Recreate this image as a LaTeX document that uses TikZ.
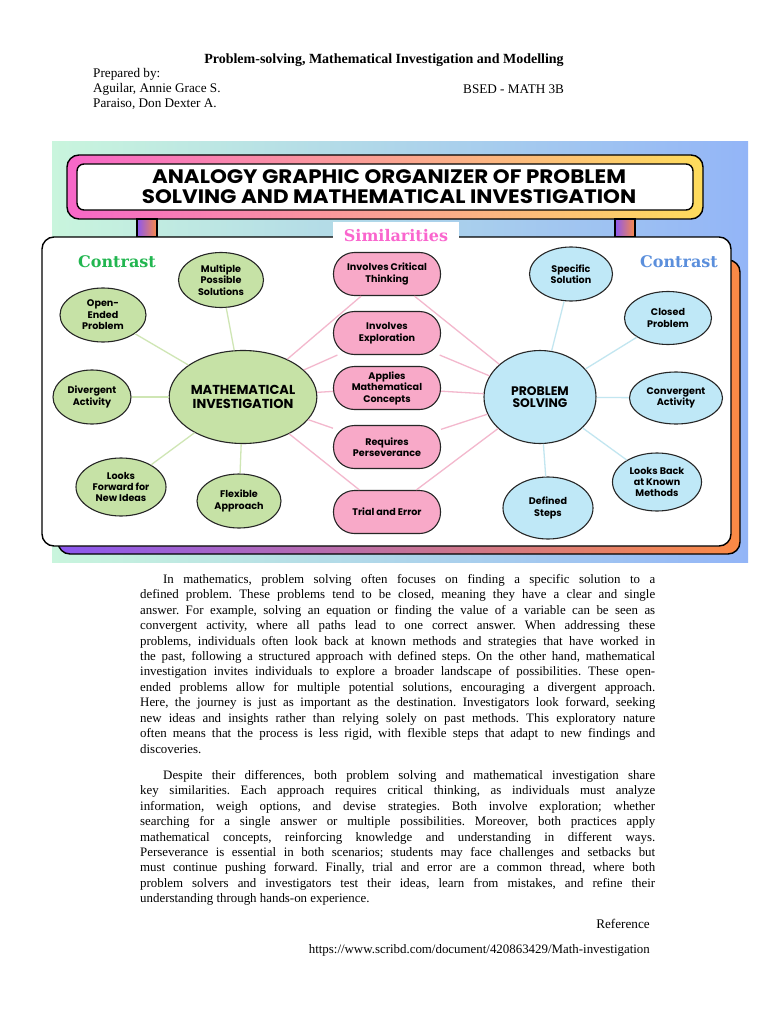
\documentclass[tikz,border=0pt]{standalone}
\usepackage{fontspec}
\setmainfont{Liberation Serif}
\setsansfont{Poppins}
\newfontfamily\slabfont{DejaVu Serif}
\newfontfamily\headfont[FakeStretch=1.10]{Poppins}
\usetikzlibrary{positioning,shapes.geometric,calc}
\usepackage{xcolor}

\definecolor{mint}{HTML}{C9F5DD}
\definecolor{skyc}{HTML}{B2DEEA}
\definecolor{peri}{HTML}{93B5F7}
\definecolor{bpink}{HTML}{F767C9}
\definecolor{bsalmon}{HTML}{FE8C88}
\definecolor{byellow}{HTML}{FEDC5C}
\definecolor{spurple}{HTML}{8C58F0}
\definecolor{spink}{HTML}{D874B8}
\definecolor{sorange}{HTML}{FB8A45}
\definecolor{gfill}{HTML}{C6E2A6}
\definecolor{pfill}{HTML}{F8A9C8}
\definecolor{bfill}{HTML}{BFE8F7}
\definecolor{gline}{HTML}{CFE6B4}
\definecolor{pline}{HTML}{F3B8CD}
\definecolor{bline}{HTML}{C2E6F0}
\definecolor{cgreen}{HTML}{22B650}
\definecolor{cblue}{HTML}{5B8FDC}
\definecolor{simpink}{HTML}{FA66CE}

% one justified line of the essay
\newcommand\txtline[1]{\hbox to 515pt{\spaceskip=0pt\xspaceskip=0pt #1}}

\begin{document}
\begin{tikzpicture}[
  x=1pt, y=-1pt,
  bub/.style={ellipse, draw=black!85, line width=1.1pt, fill=#1, inner sep=0pt, align=center,
    font=\sffamily\bfseries\fontsize{9.6}{11.4}\selectfont},
  hub/.style={bub=#1, minimum width=112pt, minimum height=93pt},
  pill/.style={rectangle, rounded corners=21pt, draw=black!85, line width=1.1pt, fill=pfill,
    minimum width=107pt, minimum height=43pt, inner sep=0pt, align=center,
    font=\sffamily\bfseries\fontsize{9.6}{11.5}\selectfont},
  link/.style={draw=#1, line width=1.3pt},
  body/.style={anchor=north west, inner sep=0pt, text width=515pt, align=justify,
    font=\fontsize{12.9}{15.45}\selectfont\frenchspacing},
  plain/.style={inner sep=0pt, font=\fontsize{13.2}{15}\selectfont},
  tag/.style={inner sep=0pt, font=\slabfont\bfseries\fontsize{16}{18}\selectfont},
]
\useasboundingbox[fill=white] (0,0) rectangle (768,1024);

% header
\node[plain, font=\bfseries\fontsize{14}{16}\selectfont] (ttl) at (384,60)
  {Problem-solving, Mathematical Investigation and Modelling};
\node[plain, anchor=west] (prep) at (93,74) {Prepared by:};
\node[plain, anchor=west] (au1) at (93,89) {Aguilar, Annie Grace S.};
\node[plain, anchor=west] (au2) at (93,104) {Paraiso, Don Dexter A.};
\node[plain, anchor=west] (cls) at (463,89) {BSED - MATH 3B};

% organizer backdrop
\shade[left color=mint, middle color=skyc, right color=peri] (52,142) rectangle (748,562);
\shadedraw[left color=bpink, middle color=bsalmon, right color=byellow, draw=black, line width=1.4pt,
  rounded corners=12pt] (67,155) rectangle (703,219);
\draw[fill=white, draw=black, line width=1.4pt, rounded corners=7pt] (77,164) rectangle (693,210);
\node[inner sep=0pt, align=center, font=\headfont\bfseries\fontsize{19.5}{20}\selectfont] (head) at (389,187)
  {ANALOGY GRAPHIC ORGANIZER OF PROBLEM\\SOLVING AND MATHEMATICAL INVESTIGATION};
\shadedraw[left color=spurple, right color=sorange, draw=black, line width=1.2pt] (137,219) rectangle (157,237);
\shadedraw[left color=spurple, right color=sorange, draw=black, line width=1.2pt] (615,219) rectangle (635,237);
\shadedraw[left color=spurple, middle color=spink, right color=sorange, draw=black, line width=1.4pt,
  rounded corners=12pt] (58,260) rectangle (740,554);
\draw[fill=white, draw=black, line width=1.4pt, rounded corners=12pt] (42,237) rectangle (731,546);
\fill[white] (333,222) rectangle (459,240);

\node[tag, text=simpink] (sim) at (396,236) {Similarities};
\node[tag, text=cgreen] (conl) at (117,262) {Contrast};
\node[tag, text=cblue] (conr) at (679,262) {Contrast};

% mathematical investigation side
\node[hub=gfill, font=\sffamily\bfseries\fontsize{13}{14.5}\selectfont] (mi) at (243,397) {MATHEMATICAL\\INVESTIGATION};
\node[bub=gfill, minimum width=85pt, minimum height=55pt] (mps) at (221,280) {Multiple\\Possible\\Solutions};
\node[bub=gfill, minimum width=86pt, minimum height=54pt] (oep) at (103,315) {Open-\\Ended\\Problem};
\node[bub=gfill, minimum width=78pt, minimum height=54pt] (div) at (92,397) {Divergent\\Activity};
\node[bub=gfill, minimum width=90pt, minimum height=58pt] (lfw) at (121,487) {Looks\\Forward for\\New Ideas};
\node[bub=gfill, minimum width=84pt, minimum height=54pt] (flx) at (239,501) {Flexible\\Approach};

% problem solving side
\node[hub=bfill, font=\sffamily\bfseries\fontsize{12.4}{12.2}\selectfont] (ps) at (540,397) {PROBLEM\\SOLVING};
\node[bub=bfill, minimum width=83pt, minimum height=54pt] (ssol) at (571,274) {Specific\\Solution};
\node[bub=bfill, minimum width=87pt, minimum height=53pt] (clo) at (668,318) {Closed\\Problem};
\node[bub=bfill, minimum width=93pt, minimum height=52pt] (conv) at (676,398) {Convergent\\Activity};
\node[bub=bfill, minimum width=89pt, minimum height=58pt] (lbk) at (657,482) {Looks Back\\at Known\\Methods};
\node[bub=bfill, minimum width=90pt, minimum height=62pt] (dst) at (548,508) {Defined\\Steps};

% shared traits
\node[pill] (ict) at (387,274) {Involves Critical\\Thinking};
\node[pill] (exp) at (387,333) {Involves\\Exploration};
\node[pill] (amc) at (387,388) {Applies\\Mathematical\\Concepts};
\node[pill] (rqp) at (387,447) {Requires\\Perseverance};
\node[pill] (tae) at (387,512) {Trial and Error};

\foreach \n in {mps,oep,div,lfw,flx} \draw[link=gline] (mi) -- (\n);
\foreach \n in {ssol,clo,conv,lbk,dst} \draw[link=bline] (ps) -- (\n);
\foreach \n in {ict,exp,amc,rqp,tae} {
  \draw[link=pline] (mi) -- (\n);
  \draw[link=pline] (ps) -- (\n);
}

% essay
\node[body] (par1) at (140,574) {%
\txtline{\hspace*{23pt}In mathematics, problem solving often focuses on finding a specific solution to a}
\txtline{defined problem. These problems tend to be closed, meaning they have a clear and single}
\txtline{answer. For example, solving an equation or finding the value of a variable can be seen as}
\txtline{convergent activity, where all paths lead to one correct answer. When addressing these}
\txtline{problems, individuals often look back at known methods and strategies that have worked in}
\txtline{the past, following a structured approach with defined steps. On the other hand, mathematical}
\txtline{investigation invites individuals to explore a broader landscape of possibilities. These open-}
\txtline{ended problems allow for multiple potential solutions, encouraging a divergent approach.}
\txtline{Here, the journey is just as important as the destination. Investigators look forward, seeking}
\txtline{new ideas and insights rather than relying solely on past methods. This exploratory nature}
\txtline{often means that the process is less rigid, with flexible steps that adapt to new findings and}
\hbox{discoveries.}};
\node[body] (par2) at (140,770) {%
\txtline{\hspace*{23pt}Despite their differences, both problem solving and mathematical investigation share}
\txtline{key similarities. Each approach requires critical thinking, as individuals must analyze}
\txtline{information, weigh options, and devise strategies. Both involve exploration; whether}
\txtline{searching for a single answer or multiple possibilities. Moreover, both practices apply}
\txtline{mathematical concepts, reinforcing knowledge and understanding in different ways.}
\txtline{Perseverance is essential in both scenarios; students may face challenges and setbacks but}
\txtline{must continue pushing forward. Finally, trial and error are a common thread, where both}
\txtline{problem solvers and investigators test their ideas, learn from mistakes, and refine their}
\hbox{understanding through hands-on experience.}};

\node[plain, anchor=east] (refh) at (650,924) {Reference};
\node[plain, anchor=east, font=\fontsize{12.9}{14}\selectfont] (url) at (650,950)
  {https://www.scribd.com/document/420863429/Math-investigation};
\end{tikzpicture}
\end{document}
